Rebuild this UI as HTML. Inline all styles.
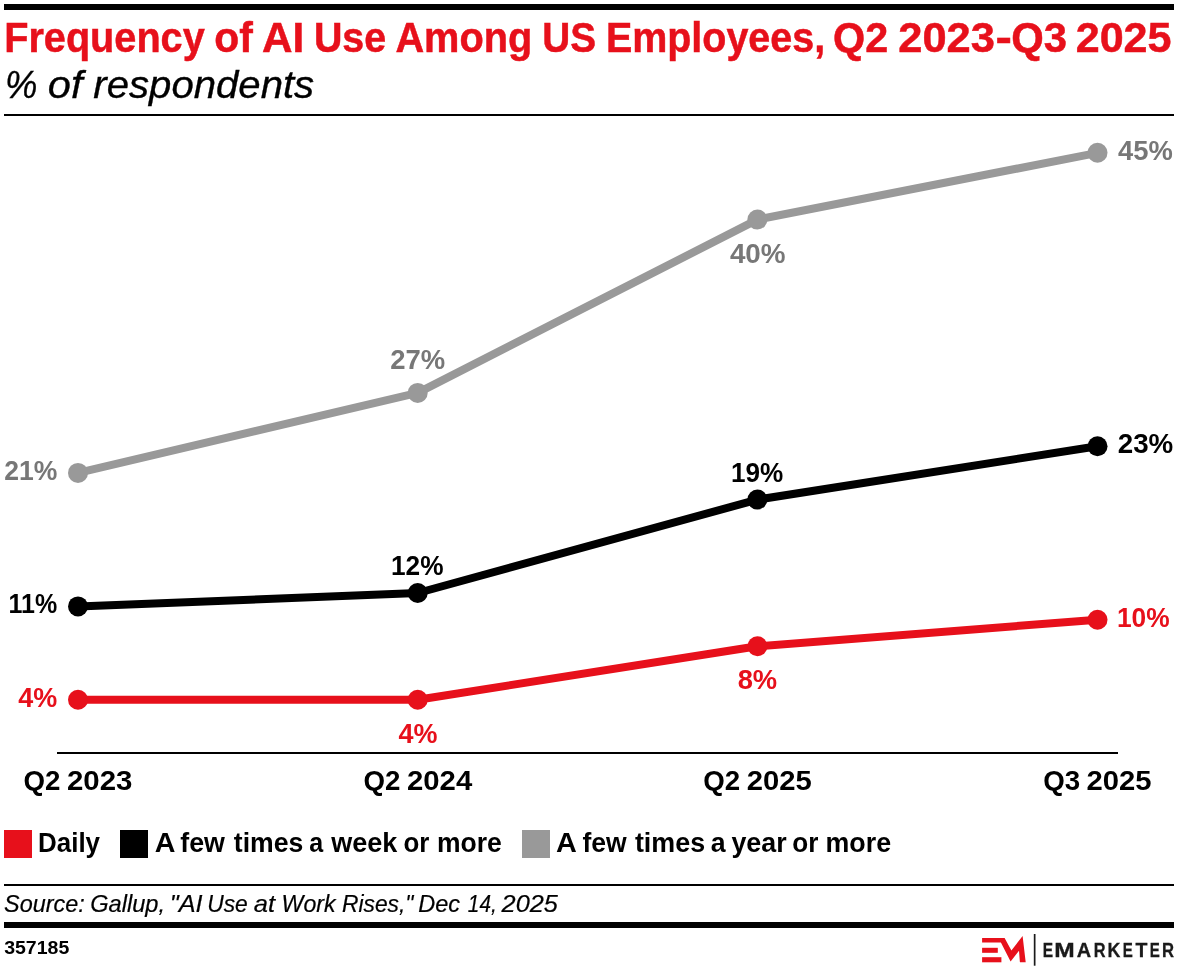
<!DOCTYPE html>
<html lang="en">
<head>
<meta charset="utf-8">
<title>Frequency of AI Use Among US Employees, Q2 2023-Q3 2025</title>
<style>
  html, body { margin: 0; padding: 0; background: #ffffff; }
  body { width: 1178px; height: 970px; overflow: hidden; }
  svg { display: block; }
  text { font-family: "Liberation Sans", sans-serif; white-space: pre; }
  .title { font-weight: bold; font-style: normal; font-size: 42px; fill: #e7101b; stroke: #e7101b; stroke-width: 0.5px; }
  .subtitle { font-weight: normal; font-style: italic; font-size: 39.5px; fill: #000000; stroke: #000000; stroke-width: 0.35px; }
  .lblg { font-weight: bold; font-style: normal; font-size: 27.3px; fill: #777777; }
  .lblk { font-weight: bold; font-style: normal; font-size: 27.3px; fill: #000000; }
  .lblr { font-weight: bold; font-style: normal; font-size: 27.3px; fill: #e7101b; }
  .axis { font-weight: bold; font-style: normal; font-size: 27.8px; fill: #000000; }
  .legend { font-weight: bold; font-style: normal; font-size: 28px; fill: #000000; }
  .brand { font-weight: bold; font-style: normal; font-size: 19.5px; fill: #1a1a1a; stroke: #1a1a1a; stroke-width: 0.3px; }
  .source { font-weight: normal; font-style: italic; font-size: 23px; fill: #000000; stroke: #000000; stroke-width: 0.2px; }
  .id { font-weight: bold; font-style: normal; font-size: 17.7px; fill: #000000; }
</style>
</head>
<body>
<svg width="1178" height="970" viewBox="0 0 1178 970">
  <rect x="0" y="0" width="1178" height="970" fill="#ffffff"/>

  <!-- top rules -->
  <rect x="4" y="4" width="1170" height="6" fill="#000000"/>
  <rect x="4" y="114" width="1170" height="2" fill="#000000"/>

  <!-- x axis -->
  <rect x="57" y="752" width="1061" height="2" fill="#000000"/>

  <!-- series lines -->
  <g fill="none" stroke-width="8" stroke-linejoin="round" stroke-linecap="round">
    <polyline stroke="#999999" points="78,472.9 417.7,392.9 757.4,219.6 1097.5,152.8"/>
    <polyline stroke="#000000" points="78,606.4 417.7,593 757.4,499.6 1097.5,446.3"/>
    <polyline stroke="#e7101b" points="78,699.7 417.7,699.7 757.4,646.3 1097.5,619.7"/>
  </g>
  <g fill="#999999">
    <circle cx="78" cy="472.9" r="10"/><circle cx="417.7" cy="392.9" r="10"/><circle cx="757.4" cy="219.6" r="10"/><circle cx="1097.5" cy="152.8" r="10"/>
  </g>
  <g fill="#000000">
    <circle cx="78" cy="606.4" r="10"/><circle cx="417.7" cy="593" r="10"/><circle cx="757.4" cy="499.6" r="10"/><circle cx="1097.5" cy="446.3" r="10"/>
  </g>
  <g fill="#e7101b">
    <circle cx="78" cy="699.7" r="10"/><circle cx="417.7" cy="699.7" r="10"/><circle cx="757.4" cy="646.3" r="10"/><circle cx="1097.5" cy="619.7" r="10"/>
  </g>

  <!-- legend swatches -->
  <rect x="4" y="830" width="28" height="28" fill="#e7101b"/>
  <rect x="120" y="830" width="28" height="28" fill="#000000"/>
  <rect x="522" y="830" width="28" height="28" fill="#999999"/>

  <!-- footer rules -->
  <rect x="4" y="884" width="1170" height="2" fill="#000000"/>
  <rect x="4" y="922" width="1170" height="6" fill="#000000"/>

  <!-- text -->
  <text class="title" y="51.80"><tspan x="4.22" textLength="200.48" lengthAdjust="spacingAndGlyphs">Frequency</tspan> <tspan x="214.37" textLength="38.54" lengthAdjust="spacingAndGlyphs">of</tspan> <tspan x="261.99" textLength="42.26" lengthAdjust="spacingAndGlyphs">AI</tspan> <tspan x="313.90" textLength="72.23" lengthAdjust="spacingAndGlyphs">Use</tspan> <tspan x="395.43" textLength="136.86" lengthAdjust="spacingAndGlyphs">Among</tspan> <tspan x="542.34" textLength="53.73" lengthAdjust="spacingAndGlyphs">US</tspan> <tspan x="605.88" textLength="219.30" lengthAdjust="spacingAndGlyphs">Employees,</tspan> <tspan x="833.06" textLength="55.12" lengthAdjust="spacingAndGlyphs">Q2</tspan> <tspan x="898.29" textLength="96.64" lengthAdjust="spacingAndGlyphs">2023</tspan><tspan x="995.41" textLength="16.42" lengthAdjust="spacingAndGlyphs">-</tspan><tspan x="1011.34" textLength="55.75" lengthAdjust="spacingAndGlyphs">Q3</tspan> <tspan x="1075.70" textLength="95.82" lengthAdjust="spacingAndGlyphs">2025</tspan></text>
  <text class="subtitle" y="98.30"><tspan x="4.90" textLength="32.41" lengthAdjust="spacingAndGlyphs">%</tspan> <tspan x="47.87" textLength="34.71" lengthAdjust="spacingAndGlyphs">of</tspan> <tspan x="93.35" textLength="220.80" lengthAdjust="spacingAndGlyphs">respondents</tspan></text>
  <text class="lblg" y="480.40"><tspan x="4.27" textLength="53.10" lengthAdjust="spacingAndGlyphs">21%</tspan></text>
  <text class="lblg" y="369.30"><tspan x="390.34" textLength="54.95" lengthAdjust="spacingAndGlyphs">27%</tspan></text>
  <text class="lblg" y="263.20"><tspan x="729.90" textLength="55.69" lengthAdjust="spacingAndGlyphs">40%</tspan></text>
  <text class="lblg" y="160.30"><tspan x="1118.10" textLength="54.79" lengthAdjust="spacingAndGlyphs">45%</tspan></text>
  <text class="lblk" y="613.20"><tspan x="8.54" textLength="48.72" lengthAdjust="spacingAndGlyphs">11%</tspan></text>
  <text class="lblk" y="575.10"><tspan x="390.96" textLength="52.51" lengthAdjust="spacingAndGlyphs">12%</tspan></text>
  <text class="lblk" y="482.10"><tspan x="730.97" textLength="52.30" lengthAdjust="spacingAndGlyphs">19%</tspan></text>
  <text class="lblk" y="453.00"><tspan x="1117.73" textLength="55.56" lengthAdjust="spacingAndGlyphs">23%</tspan></text>
  <text class="lblr" y="707.30"><tspan x="18.30" textLength="38.98" lengthAdjust="spacingAndGlyphs">4%</tspan></text>
  <text class="lblr" y="743.20"><tspan x="398.40" textLength="38.98" lengthAdjust="spacingAndGlyphs">4%</tspan></text>
  <text class="lblr" y="689.30"><tspan x="737.65" textLength="39.54" lengthAdjust="spacingAndGlyphs">8%</tspan></text>
  <text class="lblr" y="627.10"><tspan x="1116.95" textLength="52.72" lengthAdjust="spacingAndGlyphs">10%</tspan></text>
  <text class="axis" y="790.20"><tspan x="23.53" textLength="36.96" lengthAdjust="spacingAndGlyphs">Q2</tspan> <tspan x="66.98" textLength="65.45" lengthAdjust="spacingAndGlyphs">2023</tspan></text>
  <text class="axis" y="790.20"><tspan x="363.53" textLength="36.96" lengthAdjust="spacingAndGlyphs">Q2</tspan> <tspan x="406.98" textLength="65.23" lengthAdjust="spacingAndGlyphs">2024</tspan></text>
  <text class="axis" y="790.20"><tspan x="703.33" textLength="36.96" lengthAdjust="spacingAndGlyphs">Q2</tspan> <tspan x="746.79" textLength="65.04" lengthAdjust="spacingAndGlyphs">2025</tspan></text>
  <text class="axis" y="790.20"><tspan x="1043.23" textLength="36.96" lengthAdjust="spacingAndGlyphs">Q3</tspan> <tspan x="1086.49" textLength="65.04" lengthAdjust="spacingAndGlyphs">2025</tspan></text>
  <text class="legend" y="851.50"><tspan x="38.08" textLength="61.96" lengthAdjust="spacingAndGlyphs">Daily</tspan></text>
  <text class="legend" y="851.50"><tspan x="154.88" textLength="19.64" lengthAdjust="spacingAndGlyphs">A</tspan> <tspan x="180.28" textLength="44.63" lengthAdjust="spacingAndGlyphs">few</tspan> <tspan x="233.80" textLength="69.48" lengthAdjust="spacingAndGlyphs">times</tspan> <tspan x="309.21" textLength="13.93" lengthAdjust="spacingAndGlyphs">a</tspan> <tspan x="331.32" textLength="66.01" lengthAdjust="spacingAndGlyphs">week</tspan> <tspan x="403.39" textLength="25.87" lengthAdjust="spacingAndGlyphs">or</tspan> <tspan x="436.94" textLength="64.82" lengthAdjust="spacingAndGlyphs">more</tspan></text>
  <text class="legend" y="851.50"><tspan x="555.97" textLength="19.75" lengthAdjust="spacingAndGlyphs">A</tspan> <tspan x="582.39" textLength="44.22" lengthAdjust="spacingAndGlyphs">few</tspan> <tspan x="634.90" textLength="70.19" lengthAdjust="spacingAndGlyphs">times</tspan> <tspan x="710.68" textLength="14.85" lengthAdjust="spacingAndGlyphs">a</tspan> <tspan x="731.40" textLength="55.18" lengthAdjust="spacingAndGlyphs">year</tspan> <tspan x="792.28" textLength="26.08" lengthAdjust="spacingAndGlyphs">or</tspan> <tspan x="825.52" textLength="65.54" lengthAdjust="spacingAndGlyphs">more</tspan></text>
  <text class="source" y="911.60"><tspan x="4.09" textLength="80.72" lengthAdjust="spacingAndGlyphs">Source:</tspan> <tspan x="90.17" textLength="74.89" lengthAdjust="spacingAndGlyphs">Gallup,</tspan> <tspan x="169.70" textLength="32.81" lengthAdjust="spacingAndGlyphs">&quot;AI</tspan> <tspan x="207.21" textLength="40.57" lengthAdjust="spacingAndGlyphs">Use</tspan> <tspan x="253.85" textLength="21.26" lengthAdjust="spacingAndGlyphs">at</tspan> <tspan x="281.59" textLength="54.01" lengthAdjust="spacingAndGlyphs">Work</tspan> <tspan x="342.01" textLength="71.47" lengthAdjust="spacingAndGlyphs">Rises,&quot;</tspan> <tspan x="418.18" textLength="41.82" lengthAdjust="spacingAndGlyphs">Dec</tspan> <tspan x="467.85" textLength="28.89" lengthAdjust="spacingAndGlyphs">14,</tspan> <tspan x="501.62" textLength="56.26" lengthAdjust="spacingAndGlyphs">2025</tspan></text>
  <text class="id" y="953.50"><tspan x="4.16" textLength="65.13" lengthAdjust="spacingAndGlyphs">357185</tspan></text>
  <text class="brand" y="956.60"><tspan x="1042.69" textLength="10.32" lengthAdjust="spacingAndGlyphs">E</tspan><tspan x="1054.26" textLength="20.45" lengthAdjust="spacingAndGlyphs">M</tspan><tspan x="1076.84" textLength="14.40" lengthAdjust="spacingAndGlyphs">A</tspan><tspan x="1093.76" textLength="11.81" lengthAdjust="spacingAndGlyphs">R</tspan><tspan x="1107.46" textLength="12.86" lengthAdjust="spacingAndGlyphs">K</tspan><tspan x="1122.75" textLength="10.05" lengthAdjust="spacingAndGlyphs">E</tspan><tspan x="1135.45" textLength="11.91" lengthAdjust="spacingAndGlyphs">T</tspan><tspan x="1149.75" textLength="10.05" lengthAdjust="spacingAndGlyphs">E</tspan><tspan x="1161.94" textLength="12.04" lengthAdjust="spacingAndGlyphs">R</tspan></text>

  <!-- brand -->
  <g id="logo" fill="#e7101b" role="img" aria-label="EMARKETER logo mark">
    <polygon points="982.1,938 1004.6,938 1011.4,950.5 1022.6,936 1025.7,962.3 1019.9,962.3 1019,950.8 1010.6,961.4 1000.9,942.6 982.1,942.6"/>
    <rect x="982.1" y="947.8" width="15.7" height="5"/>
    <rect x="982.1" y="957.2" width="19.3" height="5.1"/>
  </g>
  <rect x="1033.8" y="934" width="1.7" height="31.7" fill="#1a1a1a"/>
</svg>
</body>
</html>
